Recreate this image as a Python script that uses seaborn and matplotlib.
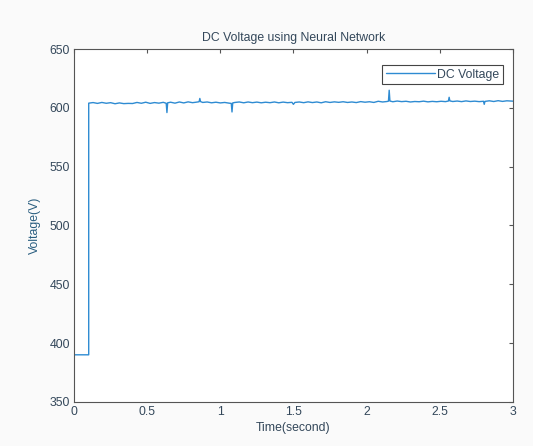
import matplotlib
matplotlib.use("Agg")
import matplotlib.pyplot as plt
import seaborn as sns
import pandas as pd

# DC bus voltage trace (time in seconds, voltage in volts)
time_s = [0.00, 0.10, 0.10, 0.13, 0.16, 0.19, 0.22, 0.25, 0.28, 0.31, 0.34, 0.37,
          0.40, 0.43, 0.46, 0.49, 0.52, 0.55, 0.58, 0.61, 0.63, 0.635, 0.64, 0.66,
          0.69, 0.72, 0.75, 0.78, 0.81, 0.84, 0.855, 0.86, 0.865, 0.88, 0.91, 0.94,
          0.97, 1.00, 1.03, 1.06, 1.075, 1.08, 1.085, 1.10, 1.13, 1.16, 1.19, 1.22,
          1.25, 1.28, 1.31, 1.34, 1.37, 1.40, 1.43, 1.46, 1.49, 1.50, 1.51, 1.54,
          1.57, 1.60, 1.63, 1.66, 1.69, 1.72, 1.75, 1.78, 1.81, 1.84, 1.87, 1.90,
          1.93, 1.96, 1.99, 2.02, 2.05, 2.08, 2.11, 2.14, 2.15, 2.155, 2.16, 2.18,
          2.21, 2.24, 2.27, 2.30, 2.33, 2.36, 2.39, 2.42, 2.45, 2.48, 2.51, 2.54,
          2.56, 2.565, 2.57, 2.59, 2.62, 2.65, 2.68, 2.71, 2.74, 2.77, 2.80, 2.805,
          2.81, 2.84, 2.87, 2.90, 2.93, 2.96, 3.00]
voltage_v = [390.0, 390.0, 604.0, 604.5, 603.8, 604.6, 603.9, 604.4, 603.5, 604.2, 603.6, 603.8,
             603.7, 604.6, 603.9, 604.8, 603.8, 604.5, 604.0, 604.7, 603.9, 596.0, 604.3, 604.8,
             604.0, 605.0, 604.2, 605.1, 604.4, 604.9, 605.2, 608.0, 605.3, 604.6, 605.0, 604.3,
             604.8, 604.2, 604.6, 604.0, 603.8, 596.5, 604.2, 604.6, 605.0, 604.3, 605.0, 604.4,
             604.9, 604.3, 604.8, 604.4, 605.0, 604.3, 604.9, 604.4, 604.7, 603.0, 604.6, 605.0,
             604.4, 605.1, 604.5, 605.0, 604.3, 605.2, 604.6, 605.1, 604.7, 605.2, 604.6, 605.0,
             604.5, 605.3, 604.8, 605.2, 604.6, 605.6, 605.0, 605.4, 605.7, 615.0, 605.8, 605.2,
             605.8, 605.3, 605.6, 605.0, 605.4, 605.2, 605.7, 605.1, 605.5, 605.2, 605.6, 605.3,
             605.8, 609.0, 605.9, 605.4, 605.8, 605.3, 605.9, 605.4, 605.7, 605.3, 605.6, 603.0,
             605.5, 606.0, 605.4, 606.1, 605.5, 606.0, 605.7]

x_ticks = [0, 0.5, 1, 1.5, 2, 2.5, 3]
x_tick_labels = ["0", "0.5", "1", "1.5", "2", "2.5", "3"]
y_ticks = [350, 400, 450, 500, 550, 600, 650]

df = pd.DataFrame({"Time": time_s, "Voltage": voltage_v})

sns.set_style("white")
plt.rcParams["font.family"] = ["Liberation Sans", "DejaVu Sans"]

text_color = "#33475a"
fs = 8.8
fig = plt.figure(figsize=(5.33, 4.46), dpi=100, facecolor="#fafafa")
ax = fig.add_axes([0.139, 0.099, 0.823, 0.791])
ax.set_facecolor("white")

sns.lineplot(data=df, x="Time", y="Voltage", ax=ax, color="#2e8bd2",
             linewidth=1.0, sort=False, estimator=None, label="DC Voltage")

ax.set_xlim(0, 3)
ax.set_ylim(350, 650)
ax.set_xticks(x_ticks)
ax.set_xticklabels(x_tick_labels)
ax.set_yticks(y_ticks)

ax.tick_params(axis="both", direction="in", length=3, width=0.8,
               top=True, right=True, labelsize=fs, labelcolor=text_color,
               color="#555555", pad=3)
for side in ax.spines.values():
    side.set_color("#555555")
    side.set_linewidth(0.8)

ax.set_xlabel("Time(second)", fontsize=fs, color=text_color, labelpad=3)
ax.set_ylabel("Voltage(V)", fontsize=fs, color="#2a5e80", labelpad=6)
ax.set_title("DC Voltage using Neural Network", fontsize=fs, color=text_color, pad=6)

leg = ax.legend(loc="upper right", bbox_to_anchor=(0.978, 0.955), fontsize=fs,
                frameon=True, fancybox=False, handlelength=4.0, borderpad=0.3,
                borderaxespad=0.0, handletextpad=0.2, labelcolor=text_color)
leg.get_frame().set_edgecolor("#444444")
leg.get_frame().set_linewidth(0.8)
leg.get_frame().set_alpha(1.0)

fig.savefig("out.png", dpi=100, facecolor=fig.get_facecolor())
